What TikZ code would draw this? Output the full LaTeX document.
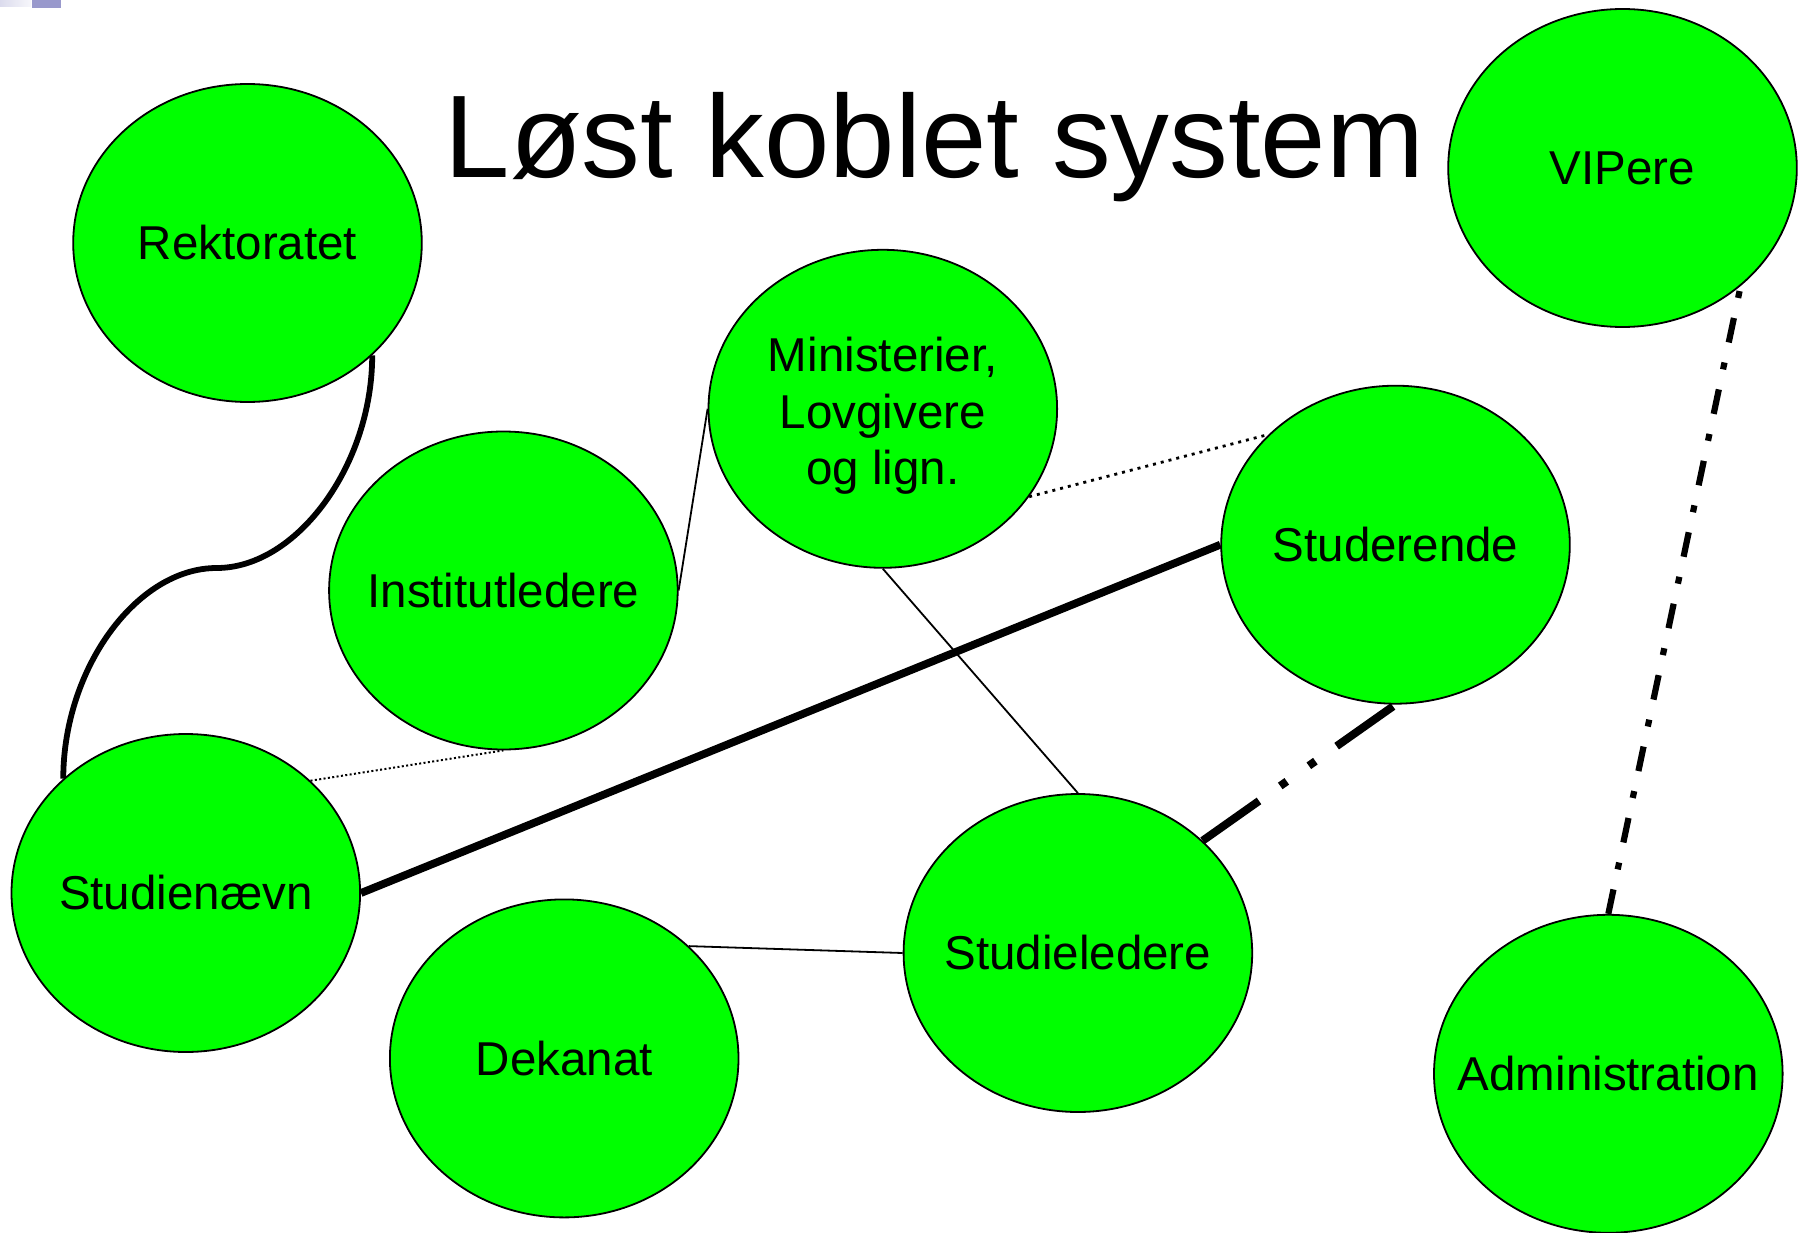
\documentclass[tikz,border=0pt]{standalone}
\usepackage{fontspec}
\setmainfont{Liberation Sans}
\usetikzlibrary{shapes.geometric}
\definecolor{blobgreen}{HTML}{00FF00}
\definecolor{decor}{HTML}{9999CC}
\pgfdeclarelayer{bg}
\pgfsetlayers{bg,main}

\begin{document}
\begin{tikzpicture}[x=1pt,y=-1pt,
  blob/.style={ellipse, draw=black, line width=1.8pt, fill=blobgreen,
    minimum width=348.6pt, minimum height=318pt, inner sep=0pt},
  lbl/.style={font=\fontsize{47.5}{56.7}\selectfont, inner sep=0pt, align=center},
  linkthin/.style={line width=1.8pt},
  linkdot/.style={line width=2.8pt, dash pattern=on 3pt off 5pt},
  linkfine/.style={line width=2pt, dash pattern=on 2pt off 2.4pt},
  linkbold/.style={line width=7.8pt},
  linkcurve/.style={line width=5.8pt},
  linkdashdot/.style={line width=6.2pt, dash pattern=on 25pt off 20.5pt on 7pt off 20.5pt},
  linkdashdotdot/.style={line width=8pt, dash pattern=on 69pt off 26pt on 8pt off 27pt on 8pt off 26pt},
]
% page
\begin{pgfonlayer}{bg}
\fill[white] (0,0) rectangle (1798,1233);
\end{pgfonlayer}
\useasboundingbox (0,0) rectangle (1798,1233);

% corner ornament
\fill[left color=decor!35, right color=decor!8] (0,0) rectangle (31,7);
\fill[decor] (32,0) rectangle (61,8);

% title
\node[anchor=base, inner sep=0pt, font=\fontsize{117.5}{140}\selectfont] (title) at (934.5,178) {Løst koblet system};

% actors
\node[blob] (rek) at (247.5,243) {};
\node[blob] (vip) at (1622.5,168) {};
\node[blob] (min) at (882.8,408.8) {};
\node[blob] (ins) at (503.4,590.5) {};
\node[blob] (std) at (1395.5,544.7) {};
\node[blob] (stn) at (185.8,893) {};
\node[blob] (dek) at (564.2,1058.4) {};
\node[blob] (stl) at (1077.9,953) {};
\node[blob] (adm) at (1608.3,1073.8) {};

\node[lbl] at (rek) {Rektoratet};
\node[lbl] at (vip) {VIPere};
\node[lbl, yshift=-7.2pt] at (min) {Ministerier,\\Lovgivere\\og lign.};
\node[lbl] at (ins) {Institutledere};
\node[lbl] at (std) {Studerende};
\node[lbl] at (stn) {Studienævn};
\node[lbl] at (dek) {Dekanat};
\node[lbl] at (stl) {Studieledere};
\node[lbl] at (adm) {Administration};

% connections, kept behind the ellipses
\coordinate (bend) at (216.7,568);
\begin{pgfonlayer}{bg}
\draw[linkcurve] (rek.-42.4) .. controls +(0,110) and +(80,0) .. (bend)
  .. controls +(-80,0) and +(0,-110) .. (stn.137.4);
\draw[linkthin] (ins.east) -- (min.west);
\draw[linkdot] (min.-31) -- (std.139.4);
\draw[linkthin] (min.south) -- (stl.north);
\draw[linkfine] (stn.42) -- (ins.south);
\draw[linkbold] (stn.east) -- (std.west);
\draw[linkthin] (dek.42) -- (stl.west);
\draw[linkdashdotdot] (stl.42) -- (std.south);
\draw[linkdashdot] (adm.north) -- (vip.-45);
\end{pgfonlayer}
\end{tikzpicture}
\end{document}
